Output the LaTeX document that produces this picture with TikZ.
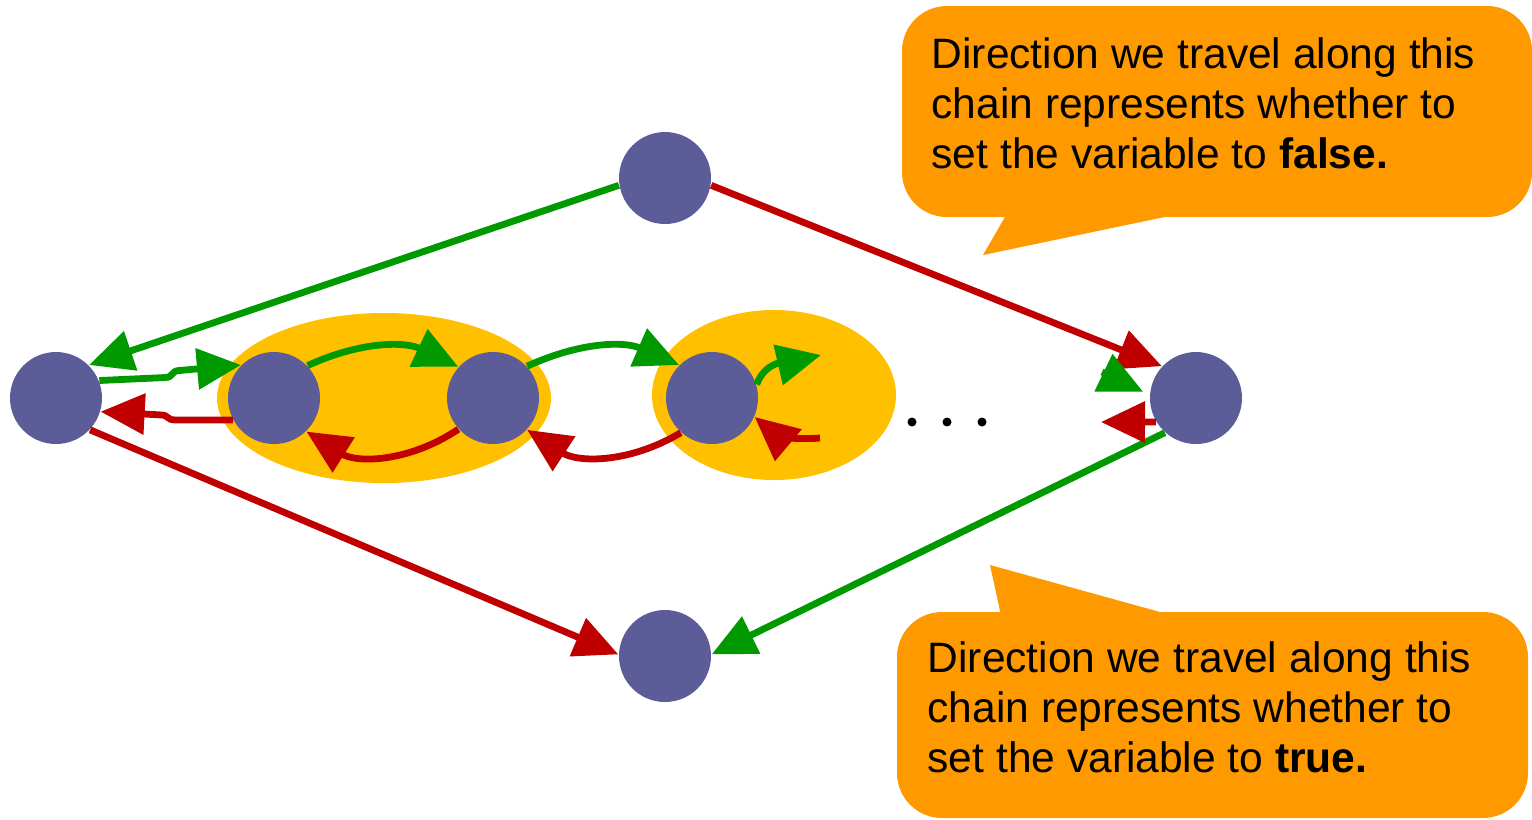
\documentclass[tikz,border=0pt]{standalone}
\usepackage{fontspec}
\setmainfont{Liberation Sans}
\usetikzlibrary{arrows.meta}
\definecolor{nodeblue}{HTML}{5C5C99}
\definecolor{pairyellow}{HTML}{FFC000}
\definecolor{noteorange}{HTML}{FF9900}
\definecolor{truegreen}{HTML}{009900}
\definecolor{falsered}{HTML}{C00000}
\begin{document}
\begin{tikzpicture}[
  vnode/.style={circle, fill=nodeblue, minimum size=0.92cm, inner sep=0pt},
  gedge/.style={line width=0.068cm, truegreen, -{Triangle[length=0.44cm,width=0.40cm]}},
  redge/.style={line width=0.068cm, falsered, -{Triangle[length=0.44cm,width=0.40cm]}},
  callout/.style={fill=noteorange, rounded corners=0.45cm},
  note/.style={anchor=north west, inner sep=0pt, align=left, font=\fontsize{12.1}{14.2}\selectfont}]
  \useasboundingbox (0,0) rectangle (15.32,-8.19);
  % yellow pairs behind the chain
  \fill[pairyellow] (3.84,-3.98) ellipse (1.67cm and 0.85cm);
  \fill[pairyellow] (7.74,-3.95) ellipse (1.22cm and 0.85cm);
  % diamond and chain nodes
  \node[vnode] (top) at (6.65,-1.78) {};
  \node[vnode] (left) at (0.56,-3.98) {};
  \node[vnode] (right) at (11.96,-3.98) {};
  \node[vnode] (bot) at (6.65,-6.56) {};
  \node[vnode] (c1) at (2.74,-3.98) {};
  \node[vnode] (c2) at (4.93,-3.98) {};
  \node[vnode] (c3) at (7.12,-3.98) {};
  \draw[gedge] (top.189) -- (left.45); \draw[redge] (top.-9) -- (right.137);
  \draw[redge] (left.-43) -- (bot.178); \draw[gedge] (right.228) -- (bot.2);
  % chain: green to the right, red back
  \draw[gedge] (left.22) -- ++(0.66,0.03) .. controls +(0.08,0) and +(-0.08,0) .. ++(0.14,0.07) -- (c1.135);
  \draw[redge] (c1.208) -- ++(-0.58,0) .. controls +(-0.08,0) and +(0.08,0) .. ++(-0.14,0.05) -- (left.-17);
  \draw[gedge] (c1.44) to[bend left=25] (c2.138);
  \draw[redge] (c2.222) to[bend left=33] (c1.-46);
  \draw[gedge] (c2.43) to[bend left=24] (c3.135);
  \draw[redge] (c3.228) to[bend left=32] (c2.-43);
  % loose ends of the chain
  \coordinate (g3) at (8.21,-3.55); \coordinate (r3) at (8.20,-4.38);
  \coordinate (g9) at (11.02,-3.72); \coordinate (r9) at (11.01,-4.22);
  \draw[gedge] (c3.17) to[out=70,in=193] (g3);
  \draw[redge] (r3) to[out=185,in=-40] (c3.-24);
  \draw[gedge, shorten >=0.07cm] (g9) -- (right.176);
  \draw[redge] (right.211) -- (r9);
  \foreach \i in {0,1,2} \fill (9.12+0.35*\i,-4.22) circle (0.045);
  % callouts
  \fill[callout] (9.02,-0.06) rectangle (15.32,-2.17);
  \fill[noteorange] (10.09,-2.10) -- (9.83,-2.55) -- (11.98,-2.10) -- cycle;
  \node[note] (falsenote) at (9.31,-0.37) {Direction we travel along this\\chain represents whether to\\set the variable to \textbf{false.}};
  \fill[callout] (8.97,-6.12) rectangle (15.28,-8.18);
  \fill[noteorange] (10.02,-6.20) -- (9.90,-5.65) -- (11.89,-6.20) -- cycle;
  \node[note] (truenote) at (9.27,-6.41) {Direction we travel along this\\chain represents whether to\\set the variable to \textbf{true.}};
\end{tikzpicture}
\end{document}
